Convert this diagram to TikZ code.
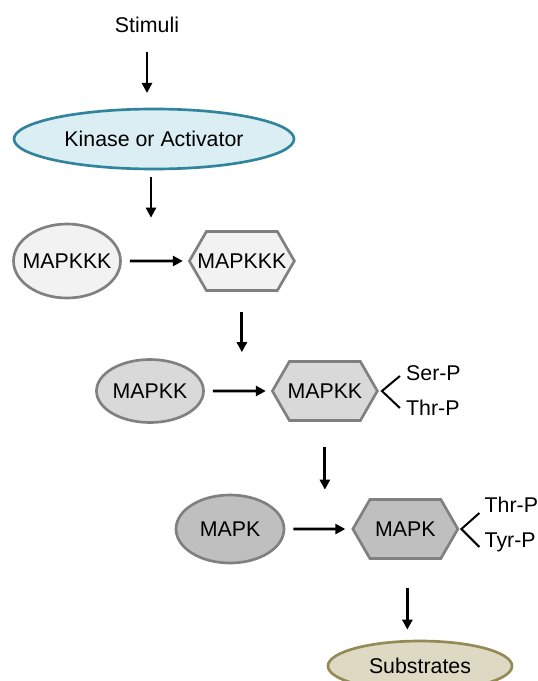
\documentclass[tikz,border=0pt]{standalone}
\usepackage{fontspec}
\setmainfont{Liberation Sans}
\usetikzlibrary{positioning,shapes.geometric,shapes.symbols,arrows.meta}

\definecolor{kinfill}{HTML}{DAEEF3}
\definecolor{kinline}{HTML}{31849B}
\definecolor{ovalgray}{HTML}{808080}
\definecolor{lvlone}{HTML}{F2F2F2}
\definecolor{lvltwo}{HTML}{D9D9D9}
\definecolor{lvlthree}{HTML}{BFBFBF}
\definecolor{subfill}{HTML}{DDD9C3}
\definecolor{subline}{HTML}{948A54}

\begin{document}
\begin{tikzpicture}[x=0.75pt,y=-0.75pt,font=\fontsize{16}{19}\selectfont,
	every node/.style={inner sep=0pt},
	slim/.style={execute at begin node={\hbox to 0pt\bgroup\hss},execute at end node={\hss\egroup}},
	oval/.style={ellipse,draw=ovalgray,line width=2pt,slim},
	hexa/.style={signal,signal to=west and east,signal pointer angle=120,draw=ovalgray,line width=2pt,minimum width=78.75pt,minimum height=44.25pt,slim},
	arr/.style={-{Triangle[length=7.5pt,width=7.5pt]},line width=2.1pt},
	brace/.style={line width=1.5pt},
	tag/.style={anchor=west,text height=11.6pt,text depth=0pt},
	node distance=49.5pt]
	\useasboundingbox (0,0) rectangle (538,681);

	\node											(stimuli)	at (147,25)		{Stimuli};
	\node[ellipse,draw=kinline,fill=kinfill,line width=2pt,minimum width=210pt,minimum height=45pt]	(kinase)	at (154,139)	{Kinase or Activator};
	\node[oval,fill=lvlone,minimum width=80.25pt,minimum height=55.5pt]		(mapkkk)	at (67,261)		{MAPKKK};
	\node[hexa,fill=lvlone,right=of mapkkk]			(mapkkkP)	{MAPKKK};
	\node[oval,fill=lvltwo,minimum width=80.25pt,minimum height=47.25pt]		(mapkk)		at (150,391)	{MAPKK};
	\node[hexa,fill=lvltwo,right=of mapkk]			(mapkkP)	{MAPKK};
	\node[oval,fill=lvlthree,minimum width=81pt,minimum height=51pt]		(mapk)		at (230,529)	{MAPK};
	\node[hexa,fill=lvlthree,right=of mapk]			(mapkP)		{MAPK};
	\node[ellipse,draw=subline,fill=subfill,line width=2pt,minimum width=138pt,minimum height=37.5pt]	(subs)	at (420,666)	{Substrates};

	\node[tag]	(serP)		at ([shift={(27,-18)}]mapkkP.east)	{Ser-P};
	\node[tag]	(thrP)		at ([shift={(27,17)}]mapkkP.east)	{Thr-P};
	\node[tag]	(thrPP)		at ([shift={(25,-24)}]mapkP.east)	{Thr-P};
	\node[tag]	(tyrP)		at ([shift={(25,11)}]mapkP.east)	{Tyr-P};

	\draw[arr,shorten <=14pt,shorten >=11pt] (stimuli) -- (stimuli |- kinase.north);
	\draw[arr,shorten <=5pt,shorten >=3.75pt] ([xshift=-2.25pt]kinase.south) -- ([xshift=-2.25pt]kinase.south |- mapkkk.north);
	\draw[arr,shorten <=6pt,shorten >=3.75pt] (mapkkk) -- (mapkkkP);
	\draw[arr,shorten <=15pt,shorten >=4.5pt] (mapkkkP.south) -- (mapkkkP.south |- mapkk.north);
	\draw[arr,shorten <=6pt,shorten >=3.75pt] (mapkk) -- (mapkkP);
	\draw[arr,shorten <=18.75pt,shorten >=3pt] (mapkkP.south) -- (mapkkP.south |- mapk.north);
	\draw[arr,shorten <=6pt,shorten >=4.5pt] (mapk) -- (mapkP);
	\draw[arr,shorten <=21pt,shorten >=7.5pt] ([xshift=1.5pt]mapkP.south) -- ([xshift=1.5pt]mapkP.south |- subs.north);

	\draw[brace] ([shift={(-6,3)}]serP.west) -- ([xshift=2.25pt]mapkkP.east) -- ([shift={(-6,0)}]thrP.west);
	\draw[brace] ([shift={(-5,8)}]thrPP.west) -- ([xshift=1.5pt]mapkP.east) -- ([shift={(-5,7)}]tyrP.west);
\end{tikzpicture}
\end{document}
